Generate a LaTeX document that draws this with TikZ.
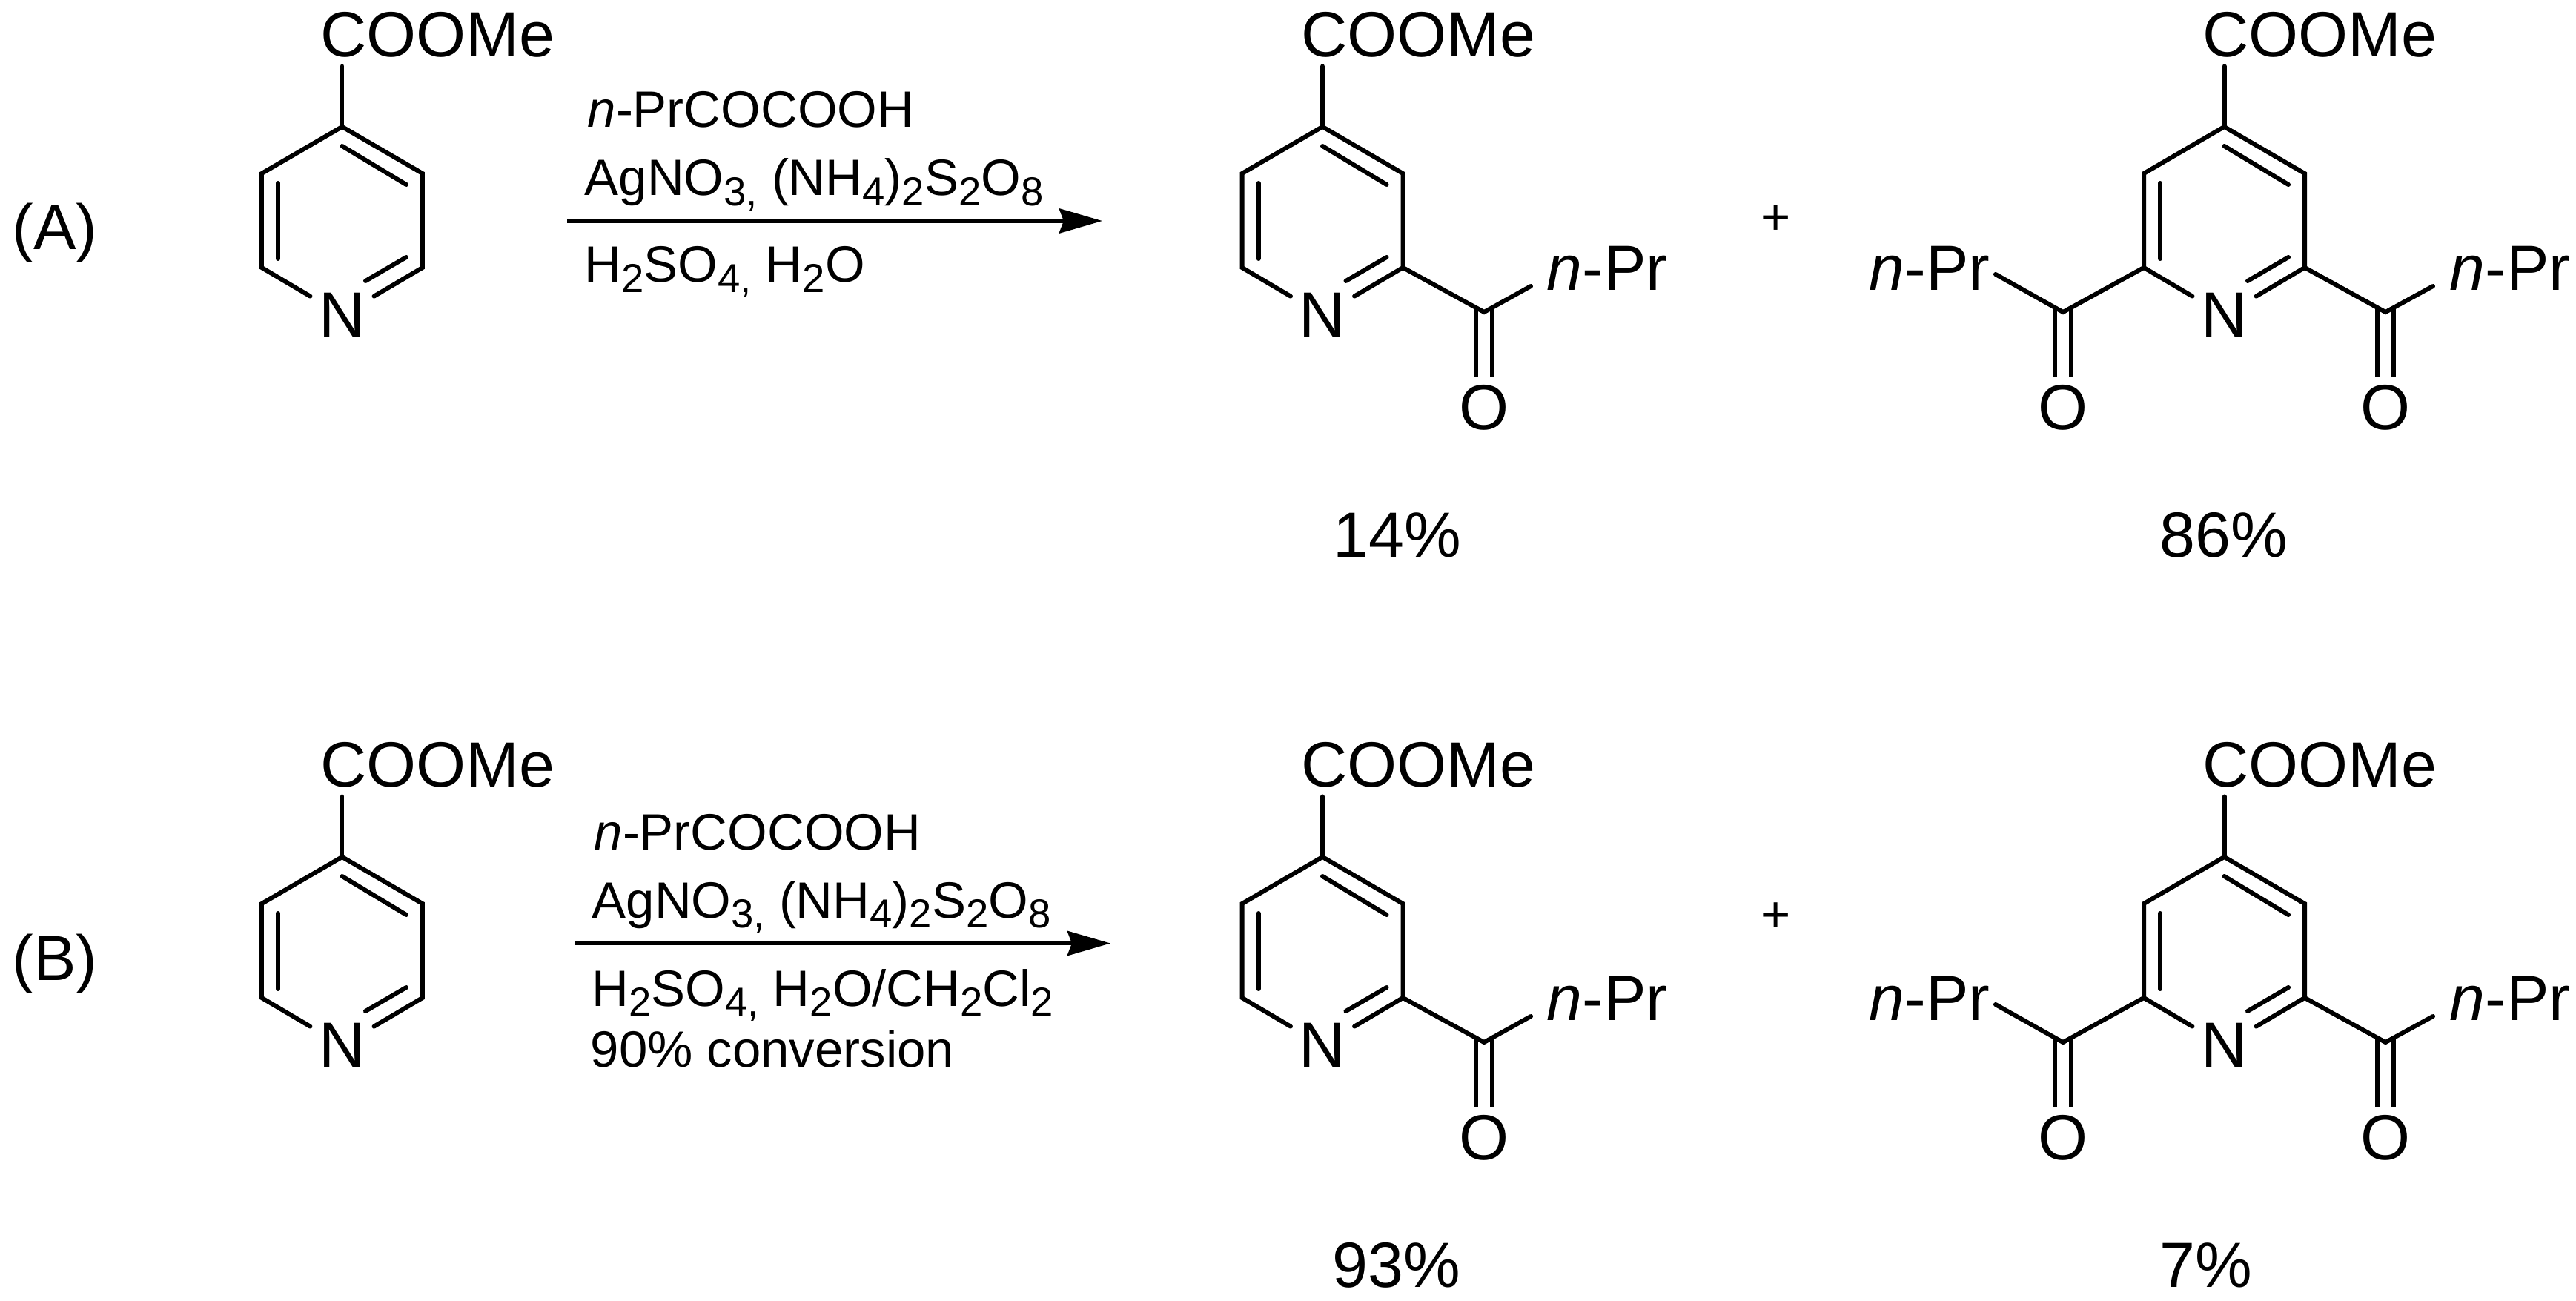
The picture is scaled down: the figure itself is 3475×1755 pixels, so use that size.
\documentclass[tikz,border=0pt]{standalone}
\usepackage{fontspec}
\setmainfont{Liberation Sans}
\usetikzlibrary{arrows.meta, calc}
\newcommand{\chemsub}[1]{\raisebox{-0.2em}{\fontsize{15.5}{15.5}\selectfont #1}}
\tikzset{
  bond/.style={line width=1.7pt, line cap=round},
  carbonyl/.style={line width=1.7pt, double, double distance=4.8pt},
  rxnarrow/.style={line width=1.7pt, -{Stealth[length=5.8mm,width=3.3mm,inset=0.6mm]}},
  atomlabel/.style={font=\fontsize{24.5}{24.5}\selectfont, inner sep=3.2pt},
  sidelabel/.style={font=\fontsize{24.5}{24.5}\selectfont, anchor=base west, inner sep=0pt},
  reagent/.style={font=\fontsize{19.6}{19.6}\selectfont, anchor=base west, inner sep=0pt}
}

\begin{document}
\begin{tikzpicture}[x=0.01cm,y=-0.01cm]
\useasboundingbox (0,0) rectangle (3475,1755);
\foreach \row/\dy in {a/0,b/985} {
    % the three pyridine rings
    \foreach \mol/\x in {sm/461.5,mono/1784,di/3000.5} {
        \coordinate (\mol\row-top) at (\x,\dy+171);
        \coordinate (\mol\row-ur) at (\x+108.5,\dy+234);
        \coordinate (\mol\row-lr) at (\x+108.5,\dy+361);
        \coordinate (\mol\row-ll) at (\x-108.5,\dy+361);
        \coordinate (\mol\row-ul) at (\x-108.5,\dy+234);
        \node[atomlabel] (\mol\row-n) at (\x,\dy+425) {N};
        \node[atomlabel] (\mol\row-ester) at (\x+129,\dy+47) {COOMe};
        \draw[bond] (\mol\row-n) -- (\mol\row-ll) -- (\mol\row-ul) -- (\mol\row-top) -- (\mol\row-ur) -- (\mol\row-lr) -- (\mol\row-n);
        \draw[bond] ($(\mol\row-top)+(0,26)$) -- ($(\mol\row-ur)+(-22,15)$);
        \draw[bond] ($(\mol\row-ul)+(22,13)$) -- ($(\mol\row-ll)+(22,-12)$);
        \draw[bond] ($(\mol\row-lr)+(-22,-14)$) -- ($(\mol\row-lr)+(-77,18)$);
        \draw[bond] (\mol\row-top) -- (\mol\row-top |- \mol\row-ester.south);
    }
    % acyl groups: ring atom, carbonyl x, label offset, free bond end
    \foreach \ket/\ringatom/\cx/\px/\ex/\ey in {mono/mono\row-lr/2002/166/63/-35,dir/di\row-lr/3218/168/64/-35,dil/di\row-ll/2783/-180/-91/-51} {
        \coordinate (\ket\row-c) at (\cx,\dy+421);
        \coordinate (\ket\row-ctop) at (\cx,\dy+415);
        \coordinate (\ket\row-end) at (\cx+\ex,\dy+421+\ey);
        \node[atomlabel] (\ket\row-o) at (\cx,\dy+550) {O};
        \node[atomlabel] (\ket\row-pr) at (\cx+\px,\dy+362) {\textit{n}-Pr};
        \draw[carbonyl] (\ket\row-ctop) -- (\ket\row-o);
        \draw[bond] (\ringatom) -- (\ket\row-c) -- (\ket\row-end);
    }
}
\node[sidelabel] (labA) at (16,337) {(A)};
\node[sidelabel] (labB) at (16,1322) {(B)};
% reaction A
\coordinate (tailA) at (765,298);
\coordinate (headA) at (1487,298);
\draw[rxnarrow] (tailA) -- (headA);
\node[reagent] (acidA) at (792,172) {\textit{n}-PrCOCOOH};
\node[reagent] (saltA) at (788,263.5) {AgNO\chemsub{3,} (NH\chemsub{4})\chemsub{2}S\chemsub{2}O\chemsub{8}};
\node[reagent] (solvA) at (788,381) {H\chemsub{2}SO\chemsub{4,} H\chemsub{2}O};
% reaction B
\coordinate (tailB) at (776,1272.5);
\coordinate (headB) at (1498,1272.5);
\draw[rxnarrow] (tailB) -- (headB);
\node[reagent] (acidB) at (801,1146) {\textit{n}-PrCOCOOH};
\node[reagent] (saltB) at (798,1238) {AgNO\chemsub{3,} (NH\chemsub{4})\chemsub{2}S\chemsub{2}O\chemsub{8}};
\node[reagent] (solvB) at (798,1357) {H\chemsub{2}SO\chemsub{4,} H\chemsub{2}O/CH\chemsub{2}Cl\chemsub{2}};
\node[reagent] (convB) at (796,1439) {90\% conversion};
% plus signs and yields
\node[font=\fontsize{19.6}{19.6}\selectfont, inner sep=0pt] (plusA) at (2396,297) {+};
\node[font=\fontsize{19.6}{19.6}\selectfont, inner sep=0pt] (plusB) at (2396,1238) {+};
\node[atomlabel] (yieldAm) at (1885,722) {14\%};
\node[atomlabel] (yieldAd) at (3000,722) {86\%};
\node[atomlabel] (yieldBm) at (1884,1707) {93\%};
\node[atomlabel] (yieldBd) at (2976,1707) {7\%};
\end{tikzpicture}
\end{document}
